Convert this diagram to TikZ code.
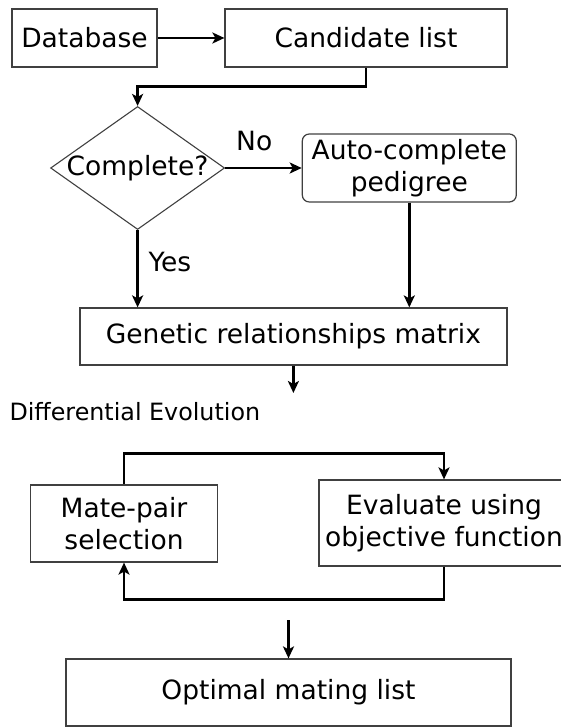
\documentclass[tikz,border=0pt]{standalone}
\usepackage{fontspec}
\setmainfont{DejaVu Sans}
\usepackage{tikz}
\usetikzlibrary{arrows.meta, shapes.geometric}

\begin{document}
\begin{tikzpicture}[x=1pt, y=-1pt,
  box/.style={draw=black!75, line width=1.2pt, rectangle, inner sep=0pt, align=center, font=\fontsize{26.5}{32}\selectfont},
  roundbox/.style={box, rounded corners=7pt},
  decision/.style={draw=black!75, line width=1.1pt, diamond, inner sep=0pt, minimum width=174pt, minimum height=123pt},
  flow/.style={line width=2.4pt, -{Stealth[length=12pt, width=11pt, inset=3pt]}},
  lbl/.style={inner sep=0pt, font=\fontsize{26.5}{32}\selectfont}]
\useasboundingbox (0,0) rectangle (561,727);
\node[box, minimum width=145pt, minimum height=58pt] (db) at (84.5,38) {Database};
\node[box, minimum width=282pt, minimum height=58pt] (cand) at (366,38) {Candidate list};
\node[decision, label={[lbl]center:Complete?}] (compl) at (137.6,168) {};
\node[roundbox, minimum width=214pt, minimum height=68pt] (auto) at (409.3,168) {Auto-complete\\pedigree};
\node[box, minimum width=427pt, minimum height=57pt] (gen) at (293.4,336.5) {Genetic relationships matrix};
\coordinate (deTip) at (293.4,393);
\path
(9.3,420) node[lbl, anchor=base west, font=\fontsize{23.8}{28}\selectfont] (de) {Differential Evolution};
\node[box, minimum width=187pt, minimum height=77pt] (mate) at (124,523.5) {Mate-pair\\selection};
\node[box, minimum width=250pt, minimum height=86pt] (eval) at (444,523) {Evaluate using\\objective function};
\coordinate (loopOut) at (288.5,620);
\node[box, minimum width=445pt, minimum height=67pt] (opt) at (288.5,692.5) {Optimal mating list};
\draw[flow] (db) -- (cand);
\draw[flow] (cand.south) -- ++(0,19) -| (compl.north);
\draw[flow] (compl.east) -- (auto.west) node[lbl, pos=0.38, above=16pt] (no) {No};
\draw[flow] (compl.south) -- (compl.south |- gen.north) node[lbl, pos=0.41, right=9.7pt] (yes) {Yes};
\draw[flow] (auto.south) -- (auto.south |- gen.north);
\draw[flow] (gen.south) -- (deTip);
\draw[flow] (mate.north) -- ++(0,-31) -| (eval.north);
\draw[flow] (eval.south) -- ++(0,33) -| (mate.south);
\draw[flow] (loopOut) -- (opt.north);
\end{tikzpicture}
\end{document}
